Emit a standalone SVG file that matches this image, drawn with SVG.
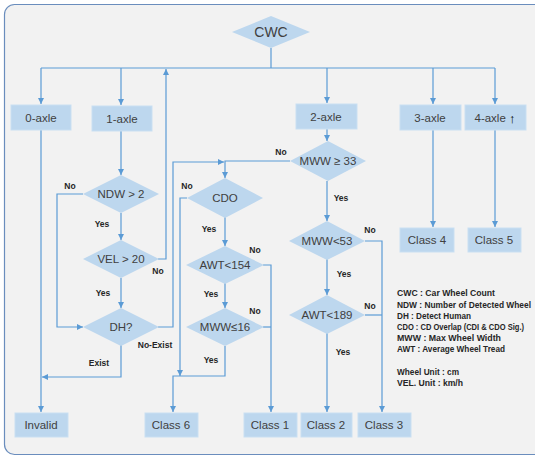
<svg xmlns="http://www.w3.org/2000/svg" width="535" height="456" viewBox="0 0 535 456">
<defs>
<marker id="ah" viewBox="0 0 10 10" refX="10" refY="5" markerWidth="6" markerHeight="6" orient="auto" markerUnits="userSpaceOnUse">
<path d="M0,0 L10,5 L0,10 z" fill="#5b9bd5"/>
</marker>
<style>
.box{fill:#bdd7ee;stroke:#c9dff2;stroke-width:1}
.dia{fill:#bdd7ee;stroke:none}
.t{font-family:"Liberation Sans",Arial,sans-serif;font-size:11.5px;fill:#404040;text-anchor:middle;dominant-baseline:central}
.l{font-family:"Liberation Sans",Arial,sans-serif;font-size:8.5px;font-weight:bold;fill:#262626;text-anchor:middle;dominant-baseline:central}
.g{font-family:"Liberation Sans",Arial,sans-serif;font-size:8.5px;font-weight:bold;fill:#262626;dominant-baseline:central}
.c{fill:none;stroke:#5b9bd5;stroke-width:1.2}
.a{marker-end:url(#ah)}
</style>
</defs>
<rect x="4.5" y="4.5" width="545" height="450" rx="10" fill="#f2f2f2" stroke="#6a8dbd" stroke-width="1.2"/>

<g id="connectors">
<path class="c" d="M271,48 V68 M41,68 H495"/>
<path class="c a" d="M41,68 V104"/>
<path class="c a" d="M121,68 V105"/>
<path class="c a" d="M327,68 V103"/>
<path class="c a" d="M433,68 V104"/>
<path class="c a" d="M495,68 V104"/>
<path class="c a" d="M41,130 V412"/>
<path class="c a" d="M121,131 V175"/>
<path class="c a" d="M121,213 V240"/>
<path class="c a" d="M83,194 H57 V327 H83"/>
<path class="c a" d="M121,278 V308"/>
<path class="c a" d="M158,259 H166 V69"/>
<path class="c a" d="M121,345 V377 H42"/>
<path class="c a" d="M158,327 H173 V162 H224"/>
<path class="c a" d="M290,161 H225 V178"/>
<path class="c a" d="M327,129 V141"/>
<path class="c a" d="M187,198 H180 V376"/>
<path class="c a" d="M225,217 V246"/>
<path class="c a" d="M225,283 V308"/>
<path class="c a" d="M263,265 H271 V412"/>
<path class="c" d="M263,327 H271"/>
<path class="c a" d="M225,346 V376 H173 V412"/>
<path class="c a" d="M327,181 V221"/>
<path class="c a" d="M365,241 H382 V412"/>
<path class="c a" d="M327,259 V295"/>
<path class="c" d="M365,315 H382"/>
<path class="c a" d="M327,333 V412"/>
<path class="c a" d="M433,130 V227"/>
<path class="c a" d="M495,130 V227"/>
</g>

<g id="labels">
<text class="l" x="70" y="186">No</text>
<text class="l" x="102" y="224">Yes</text>
<text class="l" x="158" y="271">No</text>
<text class="l" x="103" y="293">Yes</text>
<text class="l" x="99" y="363">Exist</text>
<text class="l" x="155" y="345">No-Exist</text>
<text class="l" x="281" y="152">No</text>
<text class="l" x="187" y="186">No</text>
<text class="l" x="209" y="229">Yes</text>
<text class="l" x="255" y="250">No</text>
<text class="l" x="211" y="294">Yes</text>
<text class="l" x="255" y="311">No</text>
<text class="l" x="211" y="360">Yes</text>
<text class="l" x="341" y="198">Yes</text>
<text class="l" x="370" y="230">No</text>
<text class="l" x="344" y="274">Yes</text>
<text class="l" x="370" y="306">No</text>
<text class="l" x="343" y="352">Yes</text>
</g>

<g id="CWC"><polygon class="dia" points="232,32 271,16 310,32 271,48"/><text class="t" x="271" y="32" style="font-size:14px">CWC</text></g>
<g id="axle0"><rect class="box" x="11" y="105" width="60" height="25"/><text class="t" x="41" y="118">0-axle</text></g>
<g id="axle1"><rect class="box" x="92" y="106" width="60" height="25"/><text class="t" x="122" y="119">1-axle</text></g>
<g id="axle2"><rect class="box" x="296" y="104" width="61" height="25"/><text class="t" x="326" y="117">2-axle</text></g>
<g id="axle3"><rect class="box" x="400" y="105" width="61" height="25"/><text class="t" x="430" y="118">3-axle</text></g>
<g id="axle4"><rect class="box" x="465" y="105" width="61" height="25"/><text class="t" x="495" y="118">4-axle <tspan font-weight="bold" font-size="13" fill="#000">↑</tspan></text></g>

<g id="NDW"><polygon class="dia" points="83,194 121,175 159,194 121,213"/><text class="t" x="121" y="194">NDW &gt; 2</text></g>
<g id="VEL"><polygon class="dia" points="83,259 121,240 159,259 121,278"/><text class="t" x="121" y="259">VEL &gt; 20</text></g>
<g id="DH"><polygon class="dia" points="83,327 121,308 159,327 121,346"/><text class="t" x="121" y="327">DH?</text></g>

<g id="CDO"><polygon class="dia" points="187,198 225,178 263,198 225,218"/><text class="t" x="225" y="198">CDO</text></g>
<g id="AWT154"><polygon class="dia" points="186,265 225,246 264,265 225,284"/><text class="t" x="225" y="265">AWT&lt;154</text></g>
<g id="MWW16"><polygon class="dia" points="186,327 225,308 264,327 225,346"/><text class="t" x="225" y="327">MWW≤16</text></g>

<g id="MWW33"><polygon class="dia" points="290,161 328,141 366,161 328,181"/><text class="t" x="328" y="161">MWW ≥ 33</text></g>
<g id="MWW53"><polygon class="dia" points="289,241 327,221 365,241 327,260"/><text class="t" x="327" y="241">MWW&lt;53</text></g>
<g id="AWT189"><polygon class="dia" points="289,315 327,295 365,315 327,334"/><text class="t" x="327" y="315">AWT&lt;189</text></g>

<g id="Class4"><rect class="box" x="400" y="228" width="54" height="24"/><text class="t" x="427" y="240">Class 4</text></g>
<g id="Class5"><rect class="box" x="468" y="228" width="53" height="24"/><text class="t" x="494" y="240">Class 5</text></g>
<g id="Invalid"><rect class="box" x="15" y="413" width="53" height="24"/><text class="t" x="41" y="425">Invalid</text></g>
<g id="Class6"><rect class="box" x="145" y="413" width="53" height="24"/><text class="t" x="171" y="425">Class 6</text></g>
<g id="Class1"><rect class="box" x="244" y="413" width="53" height="24"/><text class="t" x="270" y="425">Class 1</text></g>
<g id="Class2"><rect class="box" x="301" y="413" width="51" height="24"/><text class="t" x="326" y="425">Class 2</text></g>
<g id="Class3"><rect class="box" x="358" y="413" width="53" height="24"/><text class="t" x="384" y="425">Class 3</text></g>

<g id="legend">
<text class="g" x="397" y="293" textLength="98" lengthAdjust="spacingAndGlyphs">CWC : Car Wheel Count</text>
<text class="g" x="397" y="305" textLength="134" lengthAdjust="spacingAndGlyphs">NDW : Number of Detected Wheel</text>
<text class="g" x="397" y="316" textLength="74" lengthAdjust="spacingAndGlyphs">DH : Detect Human</text>
<text class="g" x="397" y="327" textLength="127" lengthAdjust="spacingAndGlyphs">CDO : CD Overlap (CDI &amp; CDO Sig.)</text>
<text class="g" x="397" y="338" textLength="104" lengthAdjust="spacingAndGlyphs">MWW : Max Wheel Width</text>
<text class="g" x="397" y="349" textLength="108" lengthAdjust="spacingAndGlyphs">AWT : Average Wheel Tread</text>
<text class="g" x="397" y="372" textLength="62" lengthAdjust="spacingAndGlyphs">Wheel Unit : cm</text>
<text class="g" x="397" y="383" textLength="66" lengthAdjust="spacingAndGlyphs">VEL. Unit :  km/h</text>
</g>
</svg>
